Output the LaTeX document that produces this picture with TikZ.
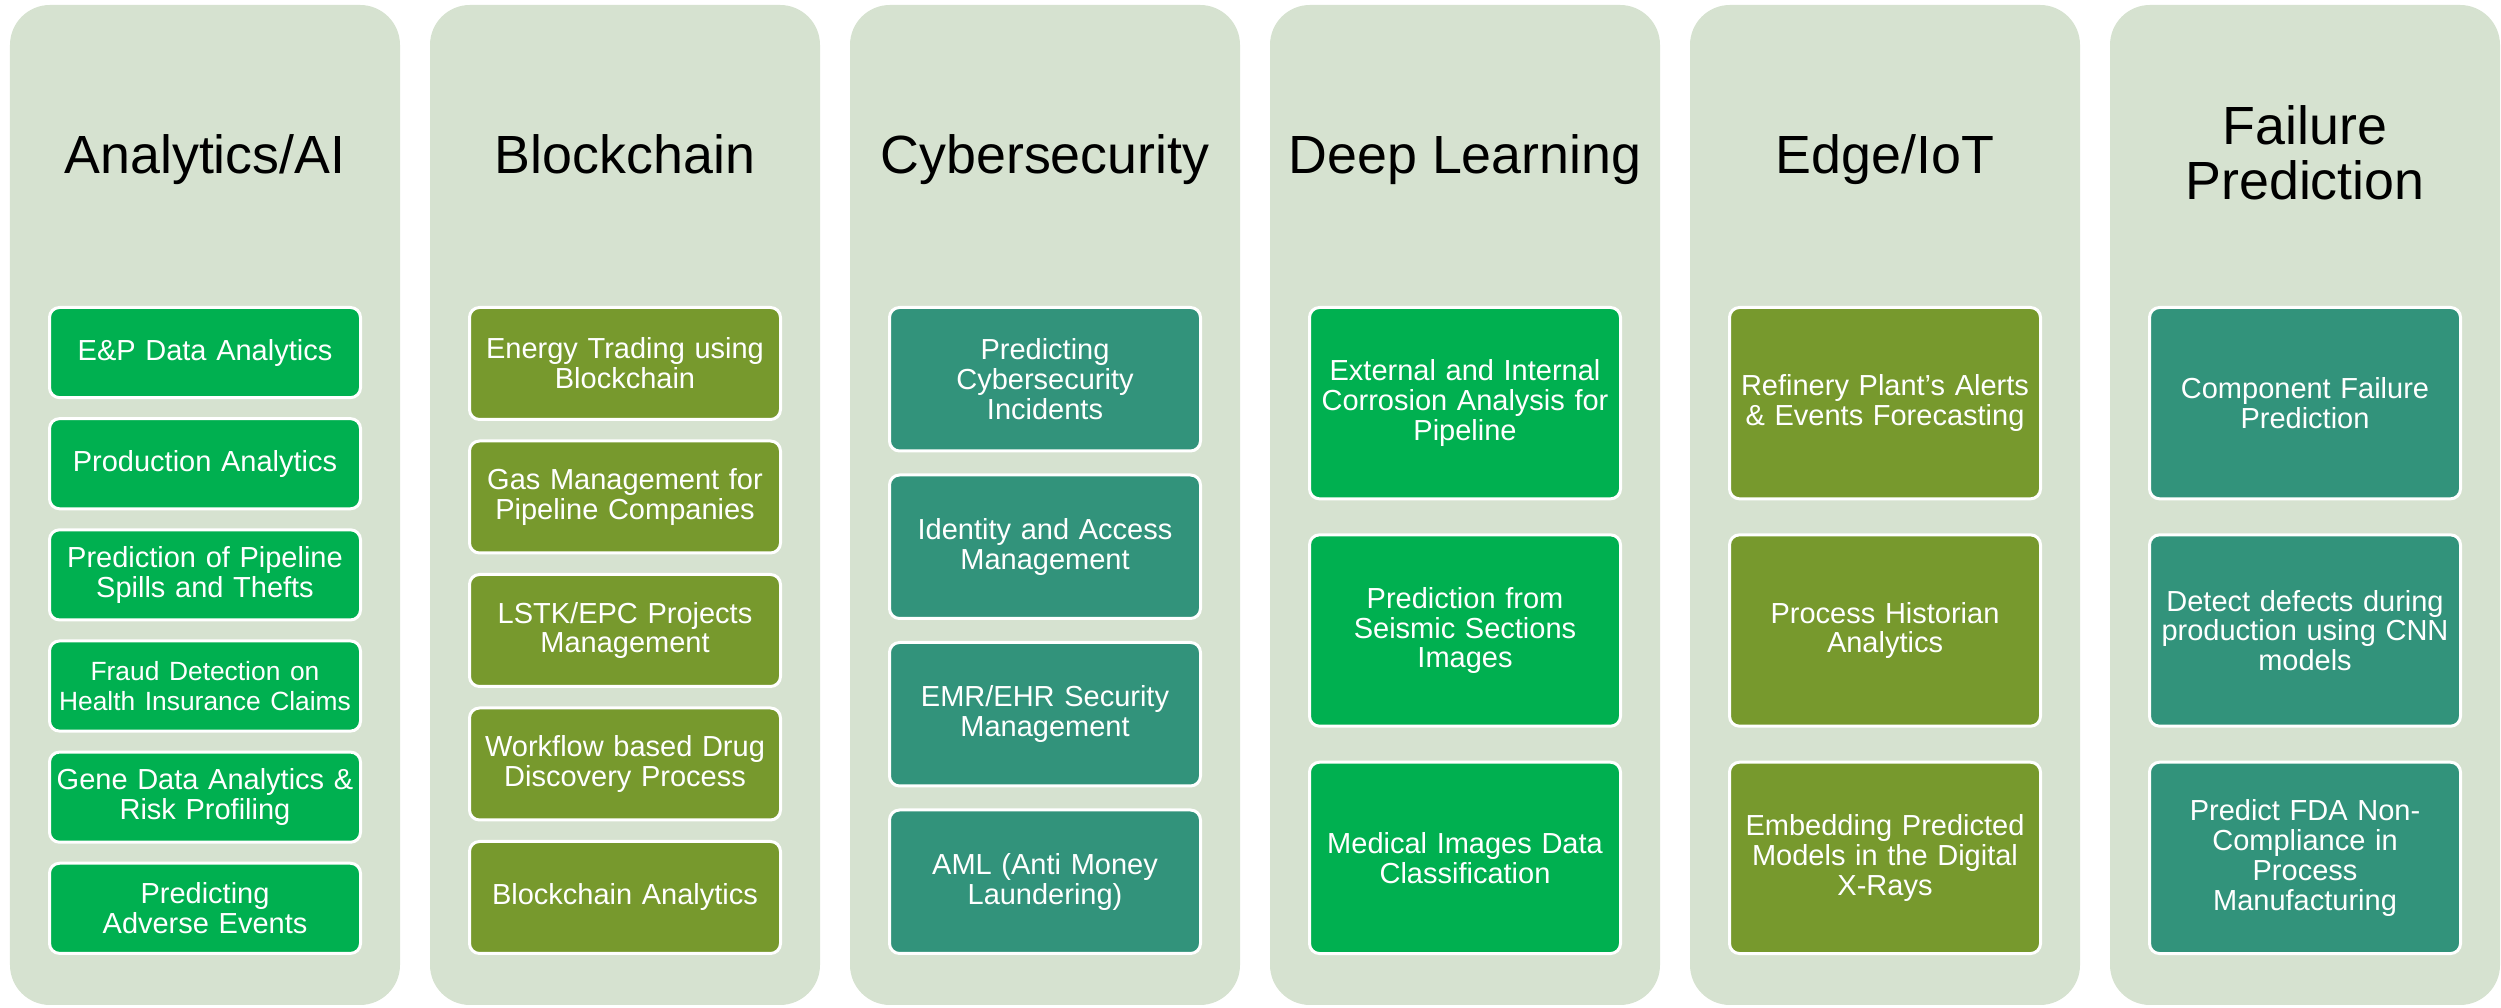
\documentclass[tikz,border=0pt]{standalone}
\usepackage{fontspec}
\setmainfont{Liberation Sans}
\definecolor{panelgray}{HTML}{D6E2D0}
\definecolor{brightgreen}{HTML}{00B050}
\definecolor{olivegreen}{HTML}{77992D}
\definecolor{tealgreen}{HTML}{32937B}

\begin{document}
\begin{tikzpicture}[
    usecase/.style={draw=white,line width=0.06cm,rounded corners=0.2cm,text=white,align=center,
        text width=6.1cm,inner sep=0,minimum width=6.22cm,font=\boxfontsize},
    titletext/.style={align=center,font=\titlefontsize}]
    \pgfmathsetmacro{\panelwidth}{7.8}
    \pgfmathsetmacro{\panelheight}{20}
    \pgfmathsetmacro{\panelround}{0.8}
    \pgfmathsetmacro{\boxtop}{14.04}
    % box heights and gaps for 6, 5, 4 and 3 boxes
    \pgfmathsetmacro{\ha}{1.863}
    \pgfmathsetmacro{\ga}{0.36}
    \pgfmathsetmacro{\hb}{2.3}
    \pgfmathsetmacro{\gb}{0.37}
    \pgfmathsetmacro{\hc}{2.93}
    \pgfmathsetmacro{\gc}{0.42}
    \pgfmathsetmacro{\hd}{3.887}
    \pgfmathsetmacro{\gd}{0.66}
    \providecommand{\titlefontsize}{\fontsize{30.6pt}{31.5pt}\selectfont}
    \providecommand{\boxfontsize}{\fontsize{16.5pt}{17pt}\selectfont}
    \useasboundingbox (0,0) rectangle (50.02,20.16);
    \fill[panelgray,rounded corners=\panelround cm] (0.2,0.06) rectangle +(\panelwidth,\panelheight);
    \fill[panelgray,rounded corners=\panelround cm] (8.6,0.06) rectangle +(\panelwidth,\panelheight);
    \fill[panelgray,rounded corners=\panelround cm] (17.0,0.06) rectangle +(\panelwidth,\panelheight);
    \fill[panelgray,rounded corners=\panelround cm] (25.4,0.06) rectangle +(\panelwidth,\panelheight);
    \fill[panelgray,rounded corners=\panelround cm] (33.8,0.06) rectangle +(\panelwidth,\panelheight);
    \fill[panelgray,rounded corners=\panelround cm] (42.2,0.06) rectangle +(\panelwidth,\panelheight);
    % titles
    \node[titletext,anchor=base] (tana) at (4.1,16.68) {Analytics/AI};
    \node[titletext,anchor=base] (tblo) at (12.5,16.68) {Blockchain};
    \node[titletext,anchor=base] (tcyb) at (20.9,16.68) {Cybersecurity};
    \node[titletext,anchor=base] (tdee) at (29.3,16.68) {Deep Learning};
    \node[titletext,anchor=base] (tedg) at (37.7,16.68) {Edge/IoT};
    \node[titletext] (tfai) at (46.1,17.11) {Failure\\Prediction};
    % Analytics/AI
    \node[usecase,fill=brightgreen,minimum height=\ha cm-0.06cm] (ana1) at (4.1,\boxtop-0.5*\ha) {E\&P Data Analytics};
    \node[usecase,fill=brightgreen,minimum height=\ha cm-0.06cm] (ana2) at (4.1,\boxtop-1.5*\ha-\ga) {Production Analytics};
    \node[usecase,fill=brightgreen,minimum height=\ha cm-0.06cm] (ana3) at (4.1,\boxtop-2.5*\ha-2*\ga) {Prediction of Pipeline\\Spills and Thefts};
    \node[usecase,fill=brightgreen,minimum height=\ha cm-0.06cm] (ana4) at (4.1,\boxtop-3.5*\ha-3*\ga) {\fontsize{15pt}{15.2pt}\selectfont Fraud Detection on\\Health Insurance Claims};
    \node[usecase,fill=brightgreen,minimum height=\ha cm-0.06cm] (ana5) at (4.1,\boxtop-4.5*\ha-4*\ga) {Gene Data Analytics \&\\Risk Profiling};
    \node[usecase,fill=brightgreen,minimum height=\ha cm-0.06cm] (ana6) at (4.1,\boxtop-5.5*\ha-5*\ga) {Predicting\\Adverse Events};
    % Blockchain
    \node[usecase,fill=olivegreen,minimum height=\hb cm-0.06cm] (blo1) at (12.5,\boxtop-0.5*\hb) {Energy Trading using\\Blockchain};
    \node[usecase,fill=olivegreen,minimum height=\hb cm-0.06cm] (blo2) at (12.5,\boxtop-1.5*\hb-\gb) {Gas Management for\\Pipeline Companies};
    \node[usecase,fill=olivegreen,minimum height=\hb cm-0.06cm] (blo3) at (12.5,\boxtop-2.5*\hb-2*\gb) {LSTK/EPC Projects\\Management};
    \node[usecase,fill=olivegreen,minimum height=\hb cm-0.06cm] (blo4) at (12.5,\boxtop-3.5*\hb-3*\gb) {Workflow based Drug\\Discovery Process};
    \node[usecase,fill=olivegreen,minimum height=\hb cm-0.06cm] (blo5) at (12.5,\boxtop-4.5*\hb-4*\gb) {Blockchain Analytics};
    % Cybersecurity
    \node[usecase,fill=tealgreen,minimum height=\hc cm-0.06cm] (cyb1) at (20.9,\boxtop-0.5*\hc) {Predicting\\Cybersecurity\\Incidents};
    \node[usecase,fill=tealgreen,minimum height=\hc cm-0.06cm] (cyb2) at (20.9,\boxtop-1.5*\hc-\gc) {Identity and Access\\Management};
    \node[usecase,fill=tealgreen,minimum height=\hc cm-0.06cm] (cyb3) at (20.9,\boxtop-2.5*\hc-2*\gc) {EMR/EHR Security\\Management};
    \node[usecase,fill=tealgreen,minimum height=\hc cm-0.06cm] (cyb4) at (20.9,\boxtop-3.5*\hc-3*\gc) {AML (Anti Money\\Laundering)};
    % Deep Learning
    \node[usecase,fill=brightgreen,minimum height=\hd cm-0.06cm] (dee1) at (29.3,\boxtop-0.5*\hd) {External and Internal\\Corrosion Analysis for\\Pipeline};
    \node[usecase,fill=brightgreen,minimum height=\hd cm-0.06cm] (dee2) at (29.3,\boxtop-1.5*\hd-\gd) {Prediction from\\Seismic Sections\\Images};
    \node[usecase,fill=brightgreen,minimum height=\hd cm-0.06cm] (dee3) at (29.3,\boxtop-2.5*\hd-2*\gd) {Medical Images Data\\Classification};
    % Edge/IoT
    \node[usecase,fill=olivegreen,minimum height=\hd cm-0.06cm] (edg1) at (37.7,\boxtop-0.5*\hd) {Refinery Plant’s Alerts\\\& Events Forecasting};
    \node[usecase,fill=olivegreen,minimum height=\hd cm-0.06cm] (edg2) at (37.7,\boxtop-1.5*\hd-\gd) {Process Historian\\Analytics};
    \node[usecase,fill=olivegreen,minimum height=\hd cm-0.06cm] (edg3) at (37.7,\boxtop-2.5*\hd-2*\gd) {Embedding Predicted\\Models in the Digital\\X-Rays};
    % Failure Prediction
    \node[usecase,fill=tealgreen,minimum height=\hd cm-0.06cm] (fai1) at (46.1,\boxtop-0.5*\hd) {Component Failure\\Prediction};
    \node[usecase,fill=tealgreen,minimum height=\hd cm-0.06cm] (fai2) at (46.1,\boxtop-1.5*\hd-\gd) {Detect defects during\\production using CNN\\models};
    \node[usecase,fill=tealgreen,minimum height=\hd cm-0.06cm] (fai3) at (46.1,\boxtop-2.5*\hd-2*\gd) {Predict FDA Non-\\Compliance in\\Process\\Manufacturing};
\end{tikzpicture}
\end{document}
